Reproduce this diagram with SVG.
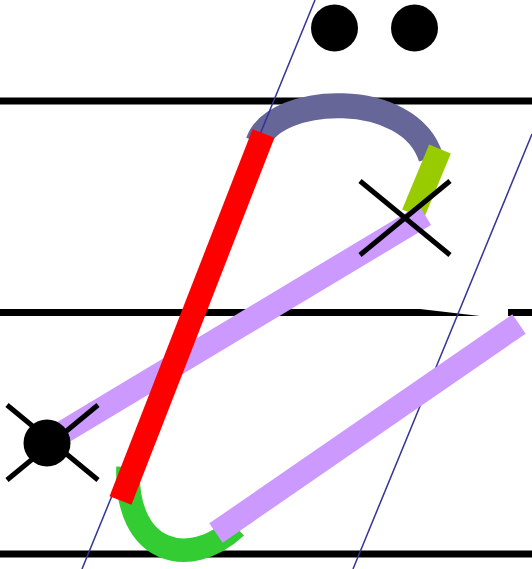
<svg xmlns="http://www.w3.org/2000/svg" width="532" height="569" viewBox="0 0 532 569">
<style>
.rule{stroke:#000;stroke-width:7;fill:none}
.guide{stroke:#333399;stroke-width:1.5;fill:none}
.st{fill:none;stroke-width:23.5;stroke-linecap:butt}
.x{stroke:#000;stroke-width:5;fill:none}
</style>
<rect width="532" height="569" fill="#fff"/>
<g id="rules">
<line class="rule" x1="0" y1="101" x2="532" y2="101"/>
<polygon points="0,309 420,309 480,316 0,316" fill="#000"/>
<rect x="508" y="309" width="24" height="7" fill="#000"/>
<line class="rule" x1="0" y1="554" x2="532" y2="554"/>
</g>
<g id="strokes">
<path class="st" stroke="#33CC33" d="M128,467 C125,555 190,570 236,527"/>
<path class="st" stroke="#666699" style="stroke-width:25" d="M258,142 C275,94 410,88 431,158"/>
<line class="st" stroke="#99CC00" x1="440" y1="149" x2="413" y2="214"/>
<line class="guide" x1="315" y1="0" x2="82" y2="569"/>
<line class="guide" x1="532" y1="134" x2="353" y2="569"/>
<line class="st" stroke="#CC99FF" x1="50" y1="440" x2="425" y2="215"/>
<line class="st" stroke="#CC99FF" x1="216" y1="533" x2="519" y2="324"/>
<line class="st" stroke="#FF0000" x1="263.5" y1="133.5" x2="120.5" y2="500.5"/>
</g>
<g id="marks">
<line class="x" x1="360" y1="181" x2="450" y2="255"/>
<line class="x" x1="360" y1="255" x2="450" y2="181"/>
<line class="x" x1="7" y1="405" x2="98" y2="480"/>
<line class="x" x1="7" y1="480" x2="98" y2="405"/>
<circle cx="47" cy="443" r="23.5" fill="#000"/>
<circle cx="334.5" cy="28" r="23.5" fill="#000"/>
<circle cx="414.5" cy="28" r="23.5" fill="#000"/>
</g>
</svg>
